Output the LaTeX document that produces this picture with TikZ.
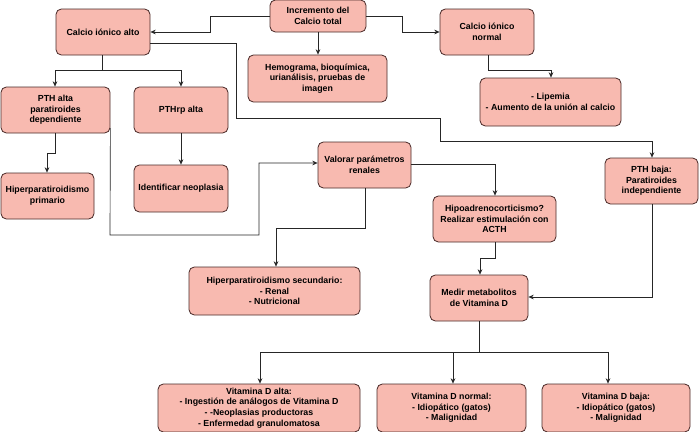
\documentclass[tikz,border=0pt]{standalone}
\usepackage{fontspec}
\setmainfont{Liberation Sans}
\usetikzlibrary{arrows.meta}
\definecolor{boxfill}{HTML}{F8BAB0}
\definecolor{boxline}{HTML}{4A2A28}
\tikzset{
  box/.style={draw=boxline, fill=boxfill, rounded corners=4pt, line width=0.6pt,
    align=center, inner sep=1pt, font=\fontsize{6.6}{8}\selectfont\bfseries},
  conn/.style={draw=black!85, line width=0.5pt, -{Stealth[length=4pt,width=3.5pt]}},
  plain/.style={draw=black!85, line width=0.5pt}
}
\newcommand{\bx}[6]{\node[box, minimum width={(#4-#2)*0.75pt}, minimum height={(#5-#3)*0.75pt}] (#1) at ({(#2+#4)/2},{(#3+#5)/2}) {#6};}
\begin{document}
\begin{tikzpicture}[x=0.75pt,y=-0.75pt]
\useasboundingbox (0,0) rectangle (700,432);
\bx{inc}{270}{0}{366}{32}{Incremento del\\Calcio total}
\bx{alto}{56}{9}{150}{55}{Calcio iónico alto}
\bx{norm}{440}{9}{534}{55}{Calcio iónico\\normal}
\bx{hemo}{248}{55}{387}{102}{Hemograma, bioquímica,\\urianálisis, pruebas de\\imagen}
\bx{lip}{480}{78}{621}{126}{- Lipemia\\- Aumento de la unión al calcio}
\bx{ptha}{1}{87}{110}{133}{PTH alta\\paratiroides\\dependiente}
\bx{pthrp}{134}{87}{228}{133}{PTHrp alta}
\bx{prim}{1}{173}{94}{219}{Hiperparatiroidismo\\primario}
\bx{neo}{134}{165}{228}{212}{Identificar neoplasia}
\bx{val}{318}{142}{411}{188}{Valorar parámetros\\renales}
\bx{pthb}{605}{158}{698}{204}{PTH baja:\\Paratiroides\\independiente}
\bx{hipo}{433}{196}{556}{242}{Hipoadrenocorticismo?\\Realizar estimulación con\\ACTH}
\bx{sec}{189}{267}{360}{315}{Hiperparatiroidismo secundario:\\- Renal\\- Nutricional}
\bx{med}{430}{275}{528}{321}{Medir metabolitos\\de Vitamina D}
\bx{va}{158}{384}{360}{432}{Vitamina D alta:\\- Ingestión de análogos de Vitamina D\\- -Neoplasias productoras\\- Enfermedad granulomatosa}
\bx{vn}{377}{384}{526}{432}{Vitamina D normal:\\- Idiopático (gatos)\\- Malignidad}
\bx{vb}{542}{384}{690}{432}{Vitamina D baja:\\- Idiopático (gatos)\\- Malignidad}
% connectors
\draw[conn] (inc.west |- 0,16) -- (210,16) -- (210,32) -- (alto.east |- 0,32);
\draw[conn] (inc.east |- 0,16) -- (402,16) -- (402,32) -- (norm.west |- 0,32);
\draw[conn] (318,32) -- (hemo.north -| 318,0);
\draw[conn] (488,55) -- (488,70) -- (551,70) -- (lip.north -| 551,0);
\draw[conn] (102,55) -- (102,70) -- (55,70) -- (ptha.north -| 55,0);
\draw[conn] (102,70) -- (181,70) -- (pthrp.north);
\draw[conn] (alto.east |- 0,43) -- (236,43) -- (236,118) -- (440,118) -- (440,141) -- (652,141) -- (pthb.north -| 652,0);
\draw[conn] (55,133) -- (55,153) -- (47,153) -- (prim.north -| 47,0);
\draw[conn] (pthrp.south) -- (neo.north);
\draw[conn] (ptha.east |- 0,128) -- (110,235) -- (259,235) -- (259,163) -- (val.west |- 0,163);
\draw[conn] (val.east |- 0,164) -- (495,164) -- (hipo.north -| 495,0);
\draw[conn] (365,188) -- (365,228) -- (276,228) -- (sec.north -| 276,0);
\draw[conn] (495,242) -- (495,258) -- (480,258) -- (med.north -| 480,0);
\draw[conn] (652,204) -- (652,297) -- (med.east |- 0,297);
\draw[plain] (479,321) -- (479,352);
\draw[conn] (260,352) -- (va.north -| 260,0);
\draw[conn] (453,352) -- (vn.north -| 453,0);
\draw[conn] (260,352) -- (608,352) -- (vb.north -| 608,0);
\end{tikzpicture}
\end{document}
